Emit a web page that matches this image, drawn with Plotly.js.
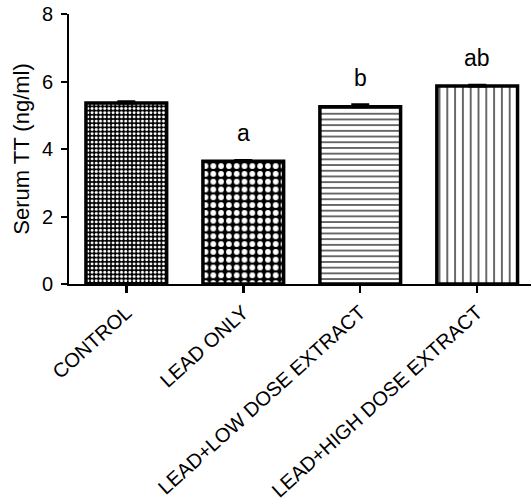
<!DOCTYPE html>
<html>
<head>
<meta charset="utf-8">
<script src="https://cdn.plot.ly/plotly-3.0.1.min.js"></script>
<style>
  html, body { margin: 0; padding: 0; background: #fff; }
  #chart { width: 531px; height: 503px; }
</style>
</head>
<body>
<div id="chart"></div>
<script>
// Data
const categories = ["CONTROL", "LEAD ONLY", "LEAD+LOW DOSE EXTRACT", "LEAD+HIGH DOSE EXTRACT"];
const serumTT = [5.36, 3.64, 5.25, 5.87];
const sem = [0.04, 0.02, 0.06, 0.02];
const sigLabels = ["", "a", "b", "ab"];
const yTicks = [0, 2, 4, 6, 8];

const patternShapes = [".", ".", "-", "|"];
const patternSizes = [4.2, 7.8, 5.7, 7.8];
const patternSolid = [0.42, 0.42, 0.2, 0.15];
const patternFg = ["#ffffff", "#ffffff", "#000000", "#000000"];
const patternBg = ["#000000", "#000000", "#ffffff", "#ffffff"];

const FONT = "Arial, 'Liberation Sans', sans-serif";

const traces = categories.map((c, i) => ({
  type: "bar",
  x: [c],
  y: [serumTT[i]],
  width: 0.69,
  marker: {
    color: "#ffffff",
    line: { color: "#000000", width: 3.5 },
    pattern: {
      shape: patternShapes[i],
      size: patternSizes[i],
      solidity: patternSolid[i],
      fgcolor: patternFg[i],
      bgcolor: patternBg[i],
      fillmode: "replace"
    }
  },
  error_y: {
    type: "data",
    symmetric: false,
    array: [sem[i]],
    arrayminus: [0],
    color: "#000000",
    thickness: 3,
    width: 9
  },
  showlegend: false,
  hoverinfo: "skip"
}));

const annotations = categories.map((c, i) => ({
  x: c,
  y: serumTT[i] + sem[i],
  text: sigLabels[i],
  showarrow: false,
  yanchor: "middle",
  yshift: 27,
  font: { family: FONT, size: 23, color: "#000000" }
})).filter(a => a.text !== "");

const layout = {
  width: 531,
  height: 503,
  margin: { l: 69, r: 0, t: 13.5, b: 219, pad: 0 },
  paper_bgcolor: "#ffffff",
  plot_bgcolor: "#ffffff",
  xaxis: {
    type: "category",
    range: [-0.49, 3.46],
    showline: true,
    linecolor: "#000000",
    linewidth: 2,
    ticks: "outside",
    ticklen: 7,
    tickwidth: 2.5,
    tickcolor: "#000000",
    tickangle: -42,
    tickfont: { family: FONT, size: 20, color: "#000000" },
    showgrid: false,
    zeroline: false,
    fixedrange: true
  },
  yaxis: {
    range: [0, 8],
    tickvals: yTicks,
    ticktext: yTicks.map(String),
    showline: true,
    linecolor: "#000000",
    linewidth: 2,
    ticks: "outside",
    ticklen: 6,
    tickwidth: 2,
    tickcolor: "#000000",
    ticklabelstandoff: 4,
    tickfont: { family: FONT, size: 20, color: "#000000" },
    title: { text: "Serum TT (ng/ml)", font: { family: FONT, size: 22, color: "#000000" }, standoff: 6 },
    showgrid: false,
    zeroline: false,
    fixedrange: true
  },
  annotations: annotations
};

Plotly.newPlot("chart", traces, layout, { staticPlot: true, displayModeBar: false });
</script>
</body>
</html>
